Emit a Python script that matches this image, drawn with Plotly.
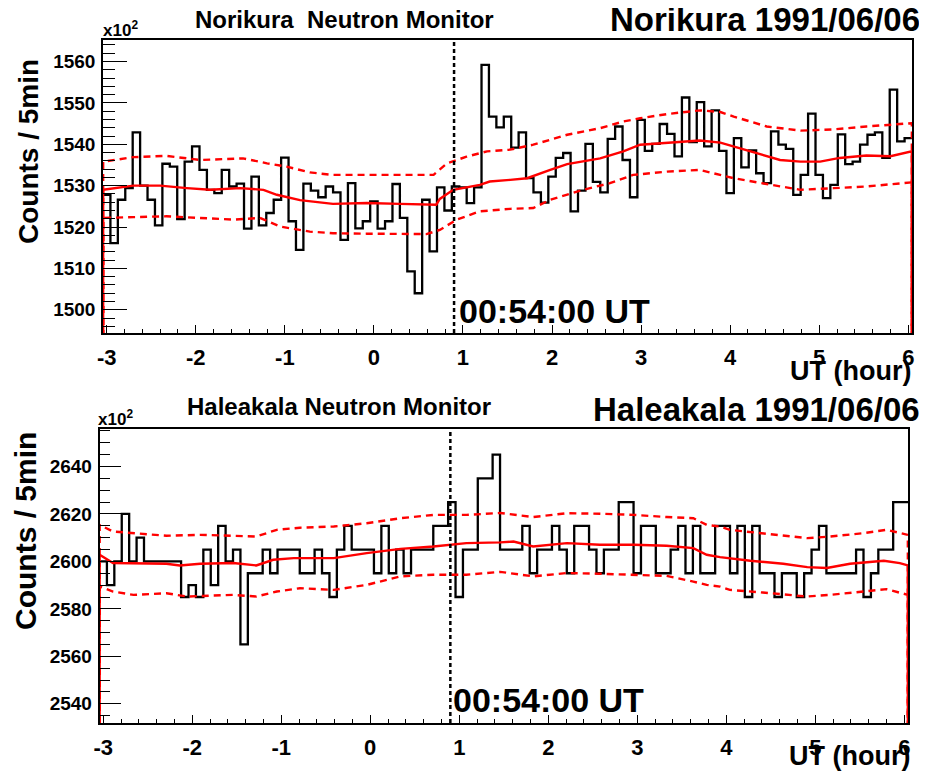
import numpy as np
import plotly.graph_objects as go

# ---------------- data ----------------
# bin centres, minutes relative to 00:00 UT (5-min bins, -3 h .. +6 h)
bin_minutes = list(range(-180, 361, 5))
event_hour = 0.9  # 00:54:00 UT

# Norikura neutron monitor, counts / 5 min  (x10^2)
nori_counts = [
    1527.8, 1516.1, 1526.6, 1529.4, 1542.9, 1530.0, 1526.6, 1520.4, 1535.3, 1534.6,
    1521.9, 1535.8, 1539.5, 1533.8, 1529.0, 1528.2, 1533.8, 1529.8, 1530.5, 1519.6,
    1532.2, 1520.4, 1523.4, 1526.6, 1536.8, 1521.4, 1514.5, 1530.5, 1528.8, 1527.2,
    1529.8, 1528.4, 1516.9, 1530.6, 1519.7, 1521.4, 1526.2, 1519.6, 1521.4, 1530.4,
    1522.2, 1509.3, 1504.0, 1526.6, 1514.1, 1529.6, 1524.0, 1529.8, 1529.6, 1525.8,
    1529.6, 1559.2, 1546.7, 1544.1, 1546.7, 1539.2, 1542.9, 1531.8, 1528.4, 1525.9,
    1532.2, 1536.7, 1537.9, 1523.8, 1528.8, 1540.1, 1530.9, 1528.4, 1541.3, 1544.3,
    1536.2, 1527.2, 1545.9, 1538.4, 1540.1, 1544.9, 1542.5, 1537.1, 1551.3, 1540.5,
    1550.2, 1539.5, 1548.2, 1538.4, 1528.2, 1541.5, 1534.4, 1538.5, 1533.0, 1530.6,
    1543.1, 1539.9, 1538.9, 1527.8, 1532.6, 1547.4, 1532.6, 1527.0, 1530.2, 1542.4,
    1535.2, 1535.8, 1539.9, 1542.3, 1542.9, 1536.7, 1553.2, 1540.7, 1541.5,
]

# Norikura running mean and +/- band (hour, x10^2)
nori_mean_t = [-3.04, -2.70, -2.40, -2.10, -1.84, -1.50, -1.24, -1.09, -0.83, -0.46,
               -0.08, 0.29, 0.52, 0.70, 0.74, 0.89, 1.19, 1.30, 1.53, 1.72,
               1.98, 2.17, 2.54, 2.80, 2.99, 3.29, 3.66, 3.89, 4.22, 4.56,
               4.79, 5.01, 5.23, 5.53, 5.80, 6.04]
nori_mean = [1529.0, 1530.0, 1530.0, 1529.4, 1529.0, 1529.4, 1529.0, 1527.8, 1526.5, 1525.6,
             1525.8, 1525.6, 1525.4, 1525.4, 1526.8, 1529.0, 1530.2, 1531.0, 1531.4, 1531.8,
             1533.8, 1535.2, 1536.6, 1538.3, 1539.9, 1540.4, 1540.9, 1540.4, 1538.3, 1536.2,
             1535.8, 1535.8, 1536.7, 1537.3, 1537.1, 1538.3]
nori_up_t = [-3.04, -2.70, -2.33, -1.95, -1.47, -1.20, -0.98, -0.72, -0.46, -0.08,
             0.29, 0.67, 0.82, 1.04, 1.27, 1.53, 1.79, 2.17, 2.54, 2.80,
             2.99, 3.29, 3.66, 3.89, 4.04, 4.41, 4.79, 5.16, 5.53, 6.04]
nori_up = [1535.8, 1536.9, 1537.2, 1536.2, 1536.6, 1535.4, 1534.6, 1533.2, 1532.6, 1532.6,
           1532.6, 1532.6, 1535.4, 1537.0, 1538.3, 1538.7, 1539.9, 1542.3, 1543.9, 1545.5,
           1546.3, 1547.3, 1548.2, 1547.8, 1546.7, 1544.3, 1543.3, 1543.6, 1544.3, 1545.1]
nori_lo_t = [-3.04, -2.70, -2.33, -1.95, -1.58, -1.28, -1.05, -0.72, -0.46, -0.08,
             0.29, 0.59, 0.74, 0.93, 1.19, 1.53, 1.79, 1.98, 2.35, 2.65,
             2.91, 3.29, 3.66, 4.04, 4.41, 4.79, 5.16, 5.53, 6.04]
nori_lo = [1522.2, 1522.4, 1522.6, 1522.2, 1521.8, 1522.2, 1520.1, 1518.9, 1518.5, 1518.4,
           1518.3, 1518.3, 1519.3, 1521.8, 1523.8, 1524.4, 1524.6, 1526.6, 1529.0, 1530.6,
           1532.6, 1533.4, 1533.8, 1531.8, 1530.4, 1529.0, 1529.4, 1529.8, 1530.8]

# Haleakala neutron monitor, counts / 5 min (x10^2)
hale_counts = [
    2600, 2590, 2600, 2620, 2600, 2610, 2600, 2600, 2600, 2600,
    2600, 2585, 2590, 2585, 2605, 2590, 2615, 2600, 2605, 2565,
    2595, 2595, 2605, 2595, 2605, 2605, 2605, 2595, 2595, 2605,
    2595, 2585, 2605, 2615, 2605, 2605, 2605, 2595, 2615, 2595,
    2605, 2595, 2605, 2605, 2605, 2615, 2615, 2625, 2585, 2605,
    2605, 2635, 2635, 2645, 2605, 2605, 2605, 2615, 2595, 2605,
    2605, 2615, 2605, 2595, 2615, 2615, 2605, 2595, 2605, 2605,
    2625, 2625, 2595, 2615, 2615, 2595, 2595, 2605, 2615, 2595,
    2615, 2595, 2595, 2615, 2615, 2595, 2615, 2585, 2615, 2595,
    2595, 2585, 2595, 2595, 2585, 2595, 2605, 2615, 2595, 2595,
    2595, 2595, 2605, 2585, 2595, 2605, 2605, 2625, 2625,
]

hale_mean_t = [-3.04, -2.89, -2.66, -2.29, -2.14, -1.91, -1.54, -1.28, -1.09, -0.86,
               -0.68, -0.41, -0.04, 0.34, 0.71, 1.08, 1.46, 1.61, 1.83, 2.21,
               2.58, 2.96, 3.33, 3.63, 3.78, 3.93, 4.27, 4.64, 4.91, 5.13,
               5.39, 5.77, 5.95, 6.04]
hale_mean = [2602.8, 2599.3, 2599.3, 2599.0, 2598.3, 2599.0, 2599.3, 2598.3, 2600.7, 2601.4,
             2601.4, 2601.4, 2603.5, 2605.3, 2606.3, 2607.7, 2608.0, 2608.4, 2606.3, 2607.7,
             2607.0, 2607.0, 2606.6, 2605.6, 2602.8, 2601.8, 2600.3, 2599.0, 2597.6, 2597.2,
             2599.0, 2600.3, 2599.3, 2598.3]
hale_up_t = [-3.04, -2.89, -2.66, -2.29, -1.91, -1.54, -1.28, -1.05, -0.79, -0.41,
             -0.04, 0.34, 0.71, 1.08, 1.46, 1.83, 2.21, 2.58, 2.96, 3.33,
             3.63, 3.78, 3.93, 4.04, 4.41, 4.91, 5.17, 5.54, 5.80, 6.04]
hale_up = [2615.4, 2612.6, 2611.9, 2610.8, 2611.2, 2610.8, 2610.5, 2613.3, 2614.2, 2614.7,
           2616.1, 2618.2, 2619.6, 2619.6, 2620.4, 2618.7, 2620.3, 2620.1, 2619.6, 2618.7,
           2618.2, 2615.4, 2614.7, 2613.3, 2611.9, 2609.8, 2610.5, 2611.9, 2613.3, 2611.2]
hale_lo_t = [-3.04, -2.89, -2.66, -2.29, -2.06, -1.54, -1.28, -1.05, -0.79, -0.41,
             -0.04, 0.34, 0.71, 1.08, 1.46, 1.83, 2.21, 2.58, 2.96, 3.33,
             3.63, 3.78, 3.93, 4.04, 4.41, 4.91, 5.17, 5.54, 5.80, 6.04]
hale_lo = [2589.4, 2587.3, 2585.9, 2586.6, 2585.2, 2585.9, 2585.2, 2587.3, 2588.7, 2588.0,
           2590.1, 2593.7, 2594.4, 2594.4, 2595.6, 2593.7, 2595.1, 2594.8, 2594.4, 2593.9,
           2591.5, 2590.1, 2589.4, 2588.0, 2586.9, 2585.2, 2585.9, 2587.3, 2588.3, 2585.9]

x_tick_vals = [-3, -2, -1, 0, 1, 2, 3, 4, 5, 6]
x_tick_text = ["-3", "-2", "-1", "0", "1", "2", "3", "4", "5", "6"]

# ---------------- figure ----------------
# the page body has an 8px margin, so the figure is drawn 8px in from the window corner
OFF = 8
W, H = 927 - OFF, 775 - OFF
FONT = "Liberation Sans"
RED = "#ff0000"

centres_h = np.array(bin_minutes) / 60.0
half = 2.5 / 60.0
edges_h = np.append(centres_h - half, centres_h[-1] + half)
x_lo, x_hi = edges_h[0], edges_h[-1]

fig = go.Figure()


def add_panel(counts, mt, m, ut, u, lt, l, xa, ya):
    y = list(counts) + [counts[-1]]
    fig.add_trace(go.Scatter(x=edges_h, y=y, mode="lines", line_shape="hv",
                             line=dict(color="black", width=2.3),
                             xaxis=xa, yaxis=ya, showlegend=False, hoverinfo="skip"))
    for tt, vv, dash in ((ut, u, "7px,5px"), (lt, l, "7px,5px"), (mt, m, "solid")):
        xs = [tt[0]] + list(tt) + [tt[-1]]
        ys = [0] + list(vv) + [0]
        fig.add_trace(go.Scatter(x=xs, y=ys, mode="lines",
                                 line=dict(color=RED, width=2.4, dash=dash),
                                 xaxis=xa, yaxis=ya, showlegend=False, hoverinfo="skip"))


add_panel(nori_counts, nori_mean_t, nori_mean, nori_up_t, nori_up, nori_lo_t, nori_lo, "x", "y")
add_panel(hale_counts, hale_mean_t, hale_mean, hale_up_t, hale_up, hale_lo_t, hale_lo, "x2", "y2")

for xr in ("x", "x2"):
    fig.add_shape(type="line", xref=xr, yref=("y domain" if xr == "x" else "y2 domain"),
                  x0=event_hour, x1=event_hour, y0=0, y1=1,
                  line=dict(color="black", width=2.5, dash="4px,3px"))


def px_x(p):
    return (p - OFF) / W


def px_y(p):
    return 1 - (p - OFF) / H


tickfont_x = dict(family=FONT, size=22, color="black", weight="bold")
tickfont_y = dict(family=FONT, size=19, color="black", weight="bold")

xcommon = dict(range=[x_lo, x_hi], tickmode="array", tickvals=x_tick_vals, ticktext=x_tick_text,
               ticks="inside", ticklen=8, tickwidth=1.2, tickcolor="black",
               minor=dict(dtick=0.2, tick0=0, ticks="inside", ticklen=4, tickwidth=1.2, tickcolor="black"),
               showline=True, mirror=True, linecolor="black", linewidth=1.5, automargin=False,
               showgrid=False, zeroline=False, tickfont=tickfont_x, ticklabelstandoff=4)
ycommon = dict(ticks="inside", tickwidth=1.2, tickcolor="black", automargin=False,
               showline=True, mirror=True, linecolor="black", linewidth=1.5,
               showgrid=False, zeroline=False, tickfont=tickfont_y, ticklabelstandoff=2)

fig.update_layout(
    template="none",
    width=W, height=H, margin=dict(l=0, r=0, t=0, b=0, autoexpand=False),
    paper_bgcolor="white", plot_bgcolor="white", showlegend=False,
    xaxis=dict(domain=[px_x(103), px_x(912)], anchor="y", **xcommon),
    yaxis=dict(domain=[px_y(333), px_y(40)], anchor="x", range=[1494.4, 1565.2],
               tickmode="linear", tick0=1500, dtick=10, ticklen=24,
               minor=dict(dtick=2, ticks="inside", ticklen=12, tickwidth=1.2, tickcolor="black"),
               **ycommon),
    xaxis2=dict(domain=[px_x(99.5), px_x(908)], anchor="y2", **xcommon),
    yaxis2=dict(domain=[px_y(723), px_y(429)], anchor="x2", range=[2531.9, 2655.8],
                tickmode="linear", tick0=2540, dtick=20, ticklen=22,
                minor=dict(dtick=5, ticks="inside", ticklen=11, tickwidth=1.2, tickcolor="black"),
                **ycommon),
)


def txt(text, x, y, size, xanchor="left", yanchor="middle", angle=0):
    fig.add_annotation(text=text, x=px_x(x), y=px_y(y), xref="paper", yref="paper",
                       xanchor=xanchor, yanchor=yanchor, showarrow=False, textangle=angle,
                       font=dict(family=FONT, size=size, color="black", weight="bold"))


# top panel texts
txt("Norikura\u00a0 Neutron Monitor", 193, 19, 24)
txt("Norikura 1991/06/06", 922, 20, 33, xanchor="right")
txt("x10<sup>2</sup>", 101, 42, 17, yanchor="bottom")
txt("Counts / 5min", 28, 152, 28, xanchor="center", angle=-90)
txt("00:54:00 UT", 457, 311, 34)
txt("UT (hour)", 913, 370.5, 27, xanchor="right")

# bottom panel texts
txt("Haleakala Neutron Monitor", 185, 406.6, 24)
txt("Haleakala 1991/06/06", 922, 409, 33, xanchor="right")
txt("x10<sup>2</sup>", 96, 431, 17, yanchor="bottom")
txt("Counts / 5min", 25, 531, 30, xanchor="center", angle=-90)
txt("00:54:00 UT", 451, 700, 34)
txt("UT (hour)", 912, 756, 27, xanchor="right")

fig.write_html("out.html")
